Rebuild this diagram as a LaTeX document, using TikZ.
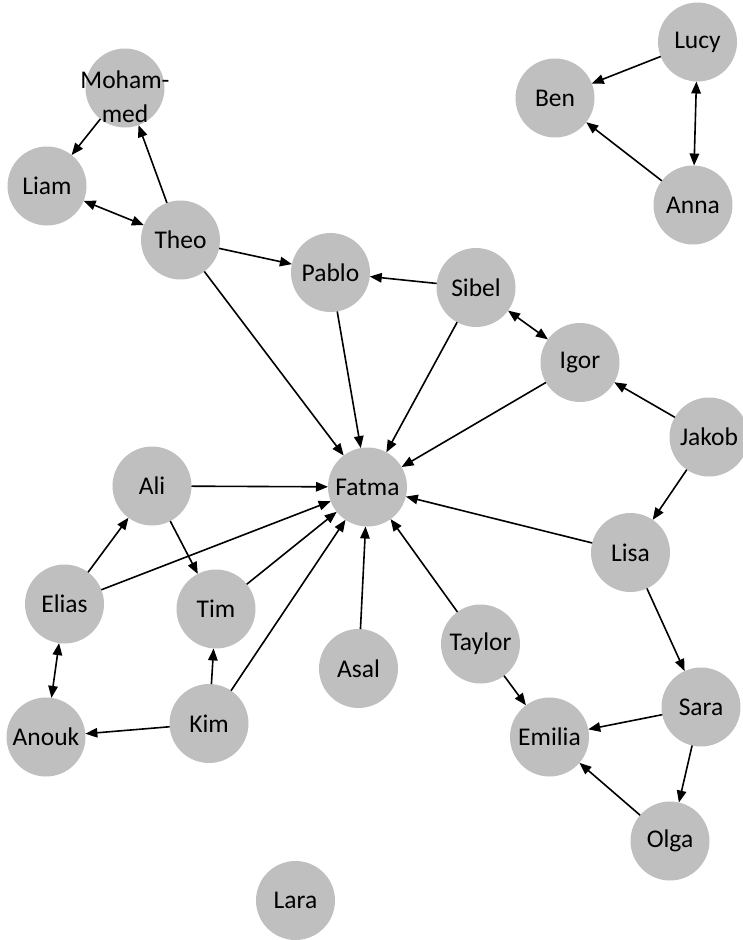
\documentclass[tikz,border=0pt]{standalone}
\usepackage{fontspec}
\setmainfont{Carlito}
\usetikzlibrary{arrows.meta}
\definecolor{nodegray}{RGB}{191,191,191}
\tikzset{
  person/.style={circle, fill=nodegray, minimum size=79pt, inner sep=0pt, outer sep=0pt, font=\fontsize{25.5}{31}\selectfont, text=black},
  edge/.style={line width=1.6pt, -{Triangle[length=12pt,width=9.5pt]}},
  biedge/.style={line width=1.6pt, {Triangle[length=12pt,width=9.5pt]}-{Triangle[length=12pt,width=9.5pt]}}
}
\begin{document}
\begin{tikzpicture}[x=1pt,y=-1pt]
\useasboundingbox (0,0) rectangle (743,940);
% nodes
\node[person] (moh) at (125,88) {\raisebox{-18pt}[0pt][0pt]{\makebox[0pt][c]{\begin{tabular}{@{}c@{}}Moham-\\[3pt]med\end{tabular}}}};
\node[person] (liam) at (47,186) {Liam};
\node[person] (theo) at (180.5,240) {Theo};
\node[person] (pablo) at (330.5,272.5) {Pablo};
\node[person] (sibel) at (476,287.5) {Sibel};
\node[person] (igor) at (580,362.5) {Igor};
\node[person] (jakob) at (709,437) {Jakob};
\node[person] (fatma) at (367.5,487) {Fatma};
\node[person] (ali) at (152,486) {Ali};
\node[person] (lisa) at (630.5,552.5) {Lisa};
\node[person] (elias) at (64.5,604) {Elias};
\node[person] (tim) at (216,609) {Tim};
\node[person] (asal) at (358.5,668.5) {Asal};
\node[person] (taylor) at (480.5,644) {Taylor};
\node[person] (sara) at (701,707) {Sara};
\node[person] (emilia) at (549.5,737) {Emilia};
\node[person] (kim) at (209,723.5) {Kim};
\node[person] (anouk) at (46,737) {Anouk};
\node[person] (olga) at (670,841) {Olga};
\node[person] (lara) at (295.5,900.5) {Lara};
\node[person] (lucy) at (697.5,42) {Lucy};
\node[person] (ben) at (555,98) {Ben};
\node[person] (anna) at (693,205) {Anna};
% edges
\draw[edge] (lucy) -- (ben);
\draw[edge] (anna) -- (ben);
\draw[biedge] (lucy) -- (anna);
\draw[edge] (moh) -- (liam);
\draw[edge] (theo) -- (moh);
\draw[biedge] (liam) -- (theo);
\draw[edge] (theo) -- (pablo);
\draw[edge] (theo) -- (fatma);
\draw[edge] (sibel) -- (pablo);
\draw[edge] (pablo) -- (fatma);
\draw[edge] (sibel) -- (fatma);
\draw[biedge] (sibel) -- (igor);
\draw[edge] (igor) -- (fatma);
\draw[edge] (jakob) -- (igor);
\draw[edge] (jakob) -- (lisa);
\draw[edge] (lisa) -- (fatma);
\draw[edge] (lisa) -- (sara);
\draw[edge] (sara) -- (emilia);
\draw[edge] (sara) -- (olga);
\draw[edge] (olga) -- (emilia);
\draw[edge] (taylor) -- (emilia);
\draw[edge] (taylor) -- (fatma);
\draw[edge] (asal) -- (fatma);
\draw[edge] (kim) -- (fatma);
\draw[edge] (tim) -- (fatma);
\draw[edge] (elias) -- (fatma);
\draw[edge] (ali) -- (fatma);
\draw[edge] (ali) -- (tim);
\draw[edge] (elias) -- (ali);
\draw[biedge] (elias) -- (anouk);
\draw[edge] (kim) -- (tim);
\draw[edge] (kim) -- (anouk);
\end{tikzpicture}
\end{document}
